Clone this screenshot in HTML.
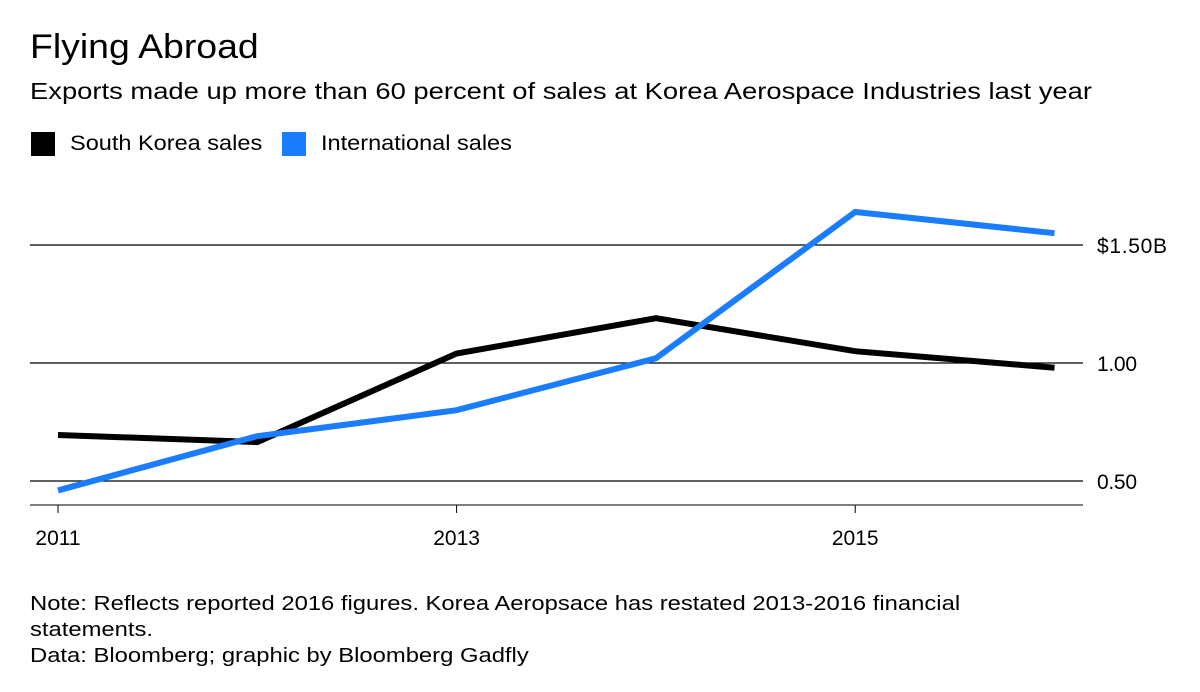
<!DOCTYPE html>
<html><head><meta charset="utf-8"><style>
body{margin:0;background:#fff;font-family:"Liberation Sans",sans-serif;color:#000;}
#wrap{position:relative;width:1200px;height:692px;overflow:hidden;}
.t{position:absolute;white-space:nowrap;transform-origin:0 0;}
</style></head><body>
<div id="wrap">
<div class="t" style="left:30px;top:28px;font-size:34px;transform:scaleX(1.1);">Flying Abroad</div>
<div class="t" style="left:30px;top:78px;font-size:23px;transform:scaleX(1.19);">Exports made up more than 60 percent of sales at Korea Aerospace Industries last year</div>
<div>
<div style="position:absolute;left:31px;top:132px;width:24px;height:24px;background:#000;"></div>
<div class="t" style="left:70px;top:132px;font-size:21px;transform:scaleX(1.12);">South Korea sales</div></div>
<div>
<div style="position:absolute;left:282px;top:132px;width:24px;height:24px;background:#1a7cff;"></div>
<div class="t" style="left:321px;top:132px;font-size:21px;transform:scaleX(1.12);">International sales</div></div>
<svg id="chart" width="1200" height="692" style="position:absolute;left:0;top:0;"></svg>
<div class="t" style="left:30px;top:591px;font-size:20px;line-height:26px;transform:scaleX(1.19);">Note: Reflects reported 2016 figures. Korea Aeropsace has restated 2013-2016 financial<br>statements.<br>Data: Bloomberg; graphic by Bloomberg Gadfly</div>
</div>
<script>
const years=[2011,2012,2013,2014,2015,2016];
const southKorea=[0.695,0.665,1.04,1.19,1.05,0.98];
const international=[0.46,0.69,0.80,1.02,1.64,1.55];
const yTicks=[0.5,1.0,1.5];
const yTickLabels=["0.50","1.00","$1.50B"];
const xTicks=[2011,2013,2015];
const NS="http://www.w3.org/2000/svg";
const svg=document.getElementById('chart');
function x(v){return 58+(v-2011)*199.3;}
function y(v){return 363-(v-1.0)*236;}
function mk(tag,attrs){const e=document.createElementNS(NS,tag);for(const k in attrs)e.setAttribute(k,attrs[k]);svg.appendChild(e);return e;}
yTicks.forEach((t,i)=>{
 const l=mk('line',{x1:30,x2:1083,y1:y(t),y2:y(t),stroke:'#000','stroke-width':1.3});
 
 
 const tx=mk('text',{x:1097,y:y(t)+8,'font-size':21,'font-family':'Liberation Sans, sans-serif',textLength:(i==2?70:40)});
 tx.textContent=yTickLabels[i];
 
 
});
const ax=mk('line',{x1:30,x2:1083,y1:505,y2:505,stroke:'#000','stroke-width':1});


xTicks.forEach(t=>{
 const tk=mk('line',{x1:x(t),x2:x(t),y1:505,y2:513,stroke:'#000','stroke-width':1});
 
 
 const tx=mk('text',{x:x(t),y:545,'font-size':21,'text-anchor':'middle','font-family':'Liberation Sans, sans-serif'});
 tx.textContent=t;
 
 
});
function line(vals,color,name){
 const p=mk('polyline',{points:vals.map((v,i)=>x(years[i])+','+y(v)).join(' '),fill:'none',stroke:color,'stroke-width':6,'stroke-linejoin':'miter'});
 
 
}
line(southKorea,'#000','south-korea-line');
line(international,'#1a7cff','international-line');
</script>
</body></html>
